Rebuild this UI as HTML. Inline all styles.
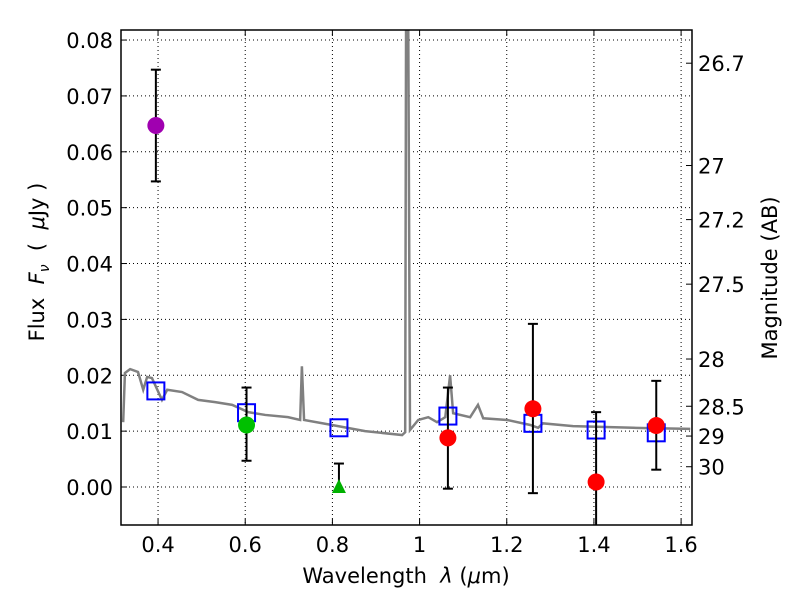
<!DOCTYPE html>
<html><head><meta charset="utf-8"><style>
body{margin:0;background:#fff}
svg text{font-family:"DejaVu Sans","Liberation Sans",sans-serif;font-size:21px;fill:#000;white-space:pre}
</style></head><body>
<svg id="c" width="800" height="600" xmlns="http://www.w3.org/2000/svg"></svg>
<script>
const specLam=[0.320,0.324,0.336,0.354,0.366,0.375,0.386,0.409,0.421,0.455,0.492,0.531,0.570,0.607,0.646,0.698,0.726,0.730,0.735,0.799,0.875,0.960,0.967,0.969,0.974,0.978,0.997,1.020,1.040,1.059,1.070,1.077,1.116,1.134,1.146,1.201,1.254,1.272,1.283,1.352,1.490,1.621];
const specFlux=[0.0116,0.0204,0.0211,0.0206,0.0174,0.0197,0.0195,0.0156,0.0174,0.0170,0.0156,0.0152,0.0147,0.0134,0.0129,0.0125,0.0120,0.0216,0.0120,0.0111,0.0100,0.0093,0.0098,0.0835,0.0835,0.0102,0.0120,0.0125,0.0116,0.0125,0.0200,0.0132,0.0125,0.0147,0.0123,0.0120,0.0111,0.0106,0.0114,0.0109,0.0106,0.0104];
const obsLam=[0.395,0.603,0.815,1.065,1.26,1.405,1.543];
const obsFlux=[0.0647,0.0111,0.0000,0.0088,0.0140,0.0009,0.0110];
const obsHi=[0.0747,0.0178,0.0042,0.0178,0.0292,0.0134,0.0190];
const obsLo=[0.0547,0.0047,0.0000,-0.0003,-0.0011,-0.0120,0.0031];
const obsColor=["#a000b0","#00c000","#00b000","#ff0000","#ff0000","#ff0000","#ff0000"];
const obsShape=["circle","circle","triangle","circle","circle","circle","circle"];
const modelFlux=[0.0172,0.0133,0.0106,0.0127,0.0114,0.0102,0.0097];
const xTicks=[0.4,0.6,0.8,1.0,1.2,1.4,1.6];
const xTickLabels=["0.4","0.6","0.8","1","1.2","1.4","1.6"];
const yTicks=[0,0.01,0.02,0.03,0.04,0.05,0.06,0.07,0.08];
const yTickLabels=["0.00","0.01","0.02","0.03","0.04","0.05","0.06","0.07","0.08"];
const magTicks=[26.7,27,27.2,27.5,28,28.5,29,30];
const magLabels=["26.7","27","27.2","27.5","28","28.5","29","30"];

const L=121,R=692,T=30,B=525;
const xmin=0.315,xmax=1.625,ymin=-0.0068,ymax=0.0818;
const X=v=>L+(v-xmin)/(xmax-xmin)*(R-L);
const Y=v=>B-(v-ymin)/(ymax-ymin)*(B-T);
const svg=document.getElementById('c');
const NS="http://www.w3.org/2000/svg";
function mk(t,a,p){const e=document.createElementNS(NS,t);for(const k in a)e.setAttribute(k,a[k]);(p||svg).appendChild(e);return e;}
const clip=mk('clipPath',{id:'cl'});mk('rect',{x:L,y:T,width:R-L,height:B-T},clip);
xTicks.forEach((v,i)=>{const g=mk('line',{x1:X(v),x2:X(v),y1:T,y2:B,stroke:'#000','stroke-dasharray':'1,3','stroke-width':1});


mk('line',{x1:X(v),x2:X(v),y1:B,y2:B-6,stroke:'#000'});mk('line',{x1:X(v),x2:X(v),y1:T,y2:T+6,stroke:'#000'});
const t=mk('text',{x:X(v),y:B+27,'text-anchor':'middle'});t.textContent=xTickLabels[i];

});
yTicks.forEach((v,i)=>{const g=mk('line',{x1:L,x2:R,y1:Y(v),y2:Y(v),stroke:'#000','stroke-dasharray':'1,3','stroke-width':1});


mk('line',{x1:L,x2:L+6,y1:Y(v),y2:Y(v),stroke:'#000'});
const t=mk('text',{x:L-8,y:Y(v)+8,'text-anchor':'end'});t.textContent=yTickLabels[i];

});
magTicks.forEach((m,i)=>{const f=Math.pow(10,(23.9-m)/2.5);const y=Y(f);
mk('line',{x1:R,x2:R-6,y1:y,y2:y,stroke:'#000'});
const t=mk('text',{x:R+6,y:y+8});t.textContent=magLabels[i];

});
const sp=mk('polyline',{points:specLam.map((l,i)=>X(l)+','+Y(specFlux[i])).join(' '),fill:'none',stroke:'#808080','stroke-width':2.5,'clip-path':'url(#cl)'});


obsLam.forEach((l,i)=>{const s=mk('rect',{x:X(l)-8.5,y:Y(modelFlux[i])-8.5,width:17,height:17,fill:'none',stroke:'#0000ff','stroke-width':2});

});
const g2=mk('g',{'clip-path':'url(#cl)'});
obsLam.forEach((l,i)=>{const x=X(l);
const e=mk('line',{x1:x,x2:x,y1:Y(obsHi[i]),y2:Y(obsLo[i]),stroke:'#000','stroke-width':2},g2);


[obsHi[i],obsLo[i]].forEach(v=>{if(v!==obsFlux[i])mk('line',{x1:x-5,x2:x+5,y1:Y(v),y2:Y(v),stroke:'#000','stroke-width':2},g2);});
let p;
if(obsShape[i]==='triangle'){const y=Y(obsFlux[i]);p=mk('polygon',{points:`${x},${y-8} ${x-7},${y+6} ${x+7},${y+6}`,fill:obsColor[i]},g2);}
else p=mk('circle',{cx:x,cy:Y(obsFlux[i]),r:8.5,fill:obsColor[i]},g2);

});
const fr=mk('rect',{x:L,y:T,width:R-L,height:B-T,fill:'none',stroke:'#000','stroke-width':1.5});


const xl=mk('text',{x:406,y:583,'text-anchor':'middle'});xl.innerHTML='Wavelength  <tspan font-style="italic">λ</tspan> (<tspan font-style="italic">μ</tspan>m)';


const yl=mk('text',{transform:'translate(44,262) rotate(-90)','text-anchor':'middle'});yl.innerHTML='Flux  <tspan font-style="italic">F</tspan><tspan font-style="italic" font-size="14" dy="5">ν</tspan><tspan dy="-5">  (  </tspan><tspan font-style="italic">μ</tspan>Jy )';


const ml=mk('text',{transform:'translate(777,278) rotate(-90)','text-anchor':'middle'});ml.textContent='Magnitude (AB)';


</script>
</body></html>
